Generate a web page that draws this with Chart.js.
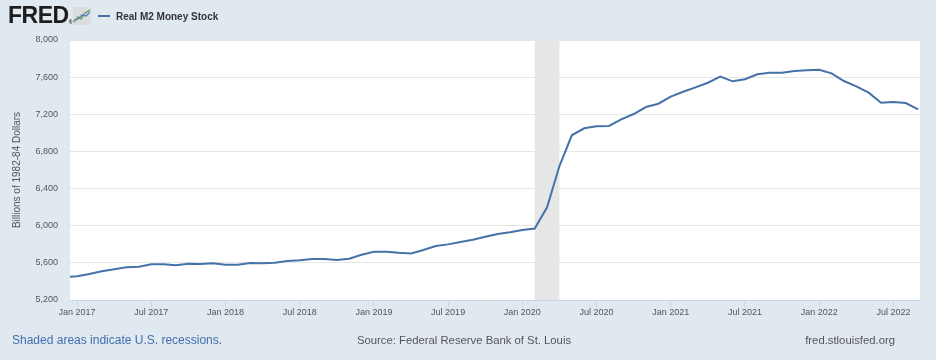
<!DOCTYPE html>
<html>
<head>
<meta charset="utf-8">
<script src="https://cdn.jsdelivr.net/npm/chart.js@4/dist/chart.umd.min.js"></script>
<style>
    body { margin: 0; background: #e1e9f0; font-family: "Liberation Sans", Arial, sans-serif; }
    #wrap { position: relative; width: 936px; height: 360px; overflow: hidden; }
    #grafico { position: absolute; left: 0; top: 0; }
    .logo { position: absolute; left: 8px; top: 4px; font-size: 23px; line-height: 23px; font-weight: bold; color: #1d1d1d; letter-spacing: -0.5px; }
    .logo small { font-size: 5px; letter-spacing: 0; vertical-align: -1px; }
    .icone { position: absolute; left: 73px; top: 7px; }
    .legenda { position: absolute; left: 98px; top: 9px; height: 14px; display: flex; align-items: center; font-size: 10px; font-weight: bold; color: #333; }
    .legenda span.traco { display: inline-block; width: 12px; height: 2px; background: #4572a7; margin-right: 6px; }
    .rodape { position: absolute; top: 333px; font-size: 11.3px; line-height: 14px; color: #555; }
</style>
</head>
<body>
<div id="wrap">
    <canvas id="grafico" width="936" height="360"></canvas>
    <div class="logo">FRED<small>&reg;</small></div>
    <svg class="icone" width="18" height="18" viewBox="0 0 18 18">
        <rect x="0" y="0" width="18" height="18" fill="#d9dde2"/>
        <polyline points="1,15 5,10 8,12 12,6 17,3" fill="none" stroke="#6fa04a" stroke-width="1.4"/>
        <polyline points="1,13 5,12 9,8 13,9 17,5" fill="none" stroke="#4f7fbf" stroke-width="1.2"/>
    </svg>
    <div class="legenda"><span class="traco"></span>Real M2 Money Stock</div>
    <div class="rodape" style="left:12px; font-size:12px; color:#3f6fae;">Shaded areas indicate U.S. recessions.</div>
    <div class="rodape" style="left:0; width:928px; text-align:center;">Source: Federal Reserve Bank of St. Louis</div>
    <div class="rodape" style="right:41px;">fred.stlouisfed.org</div>
</div>

<script>
// --- Data (monthly, billions of 1982-84 dollars) ---
const meses = [
    '2016-12',
    '2017-01', '2017-02', '2017-03', '2017-04', '2017-05', '2017-06', '2017-07', '2017-08', '2017-09', '2017-10', '2017-11', '2017-12',
    '2018-01', '2018-02', '2018-03', '2018-04', '2018-05', '2018-06', '2018-07', '2018-08', '2018-09', '2018-10', '2018-11', '2018-12',
    '2019-01', '2019-02', '2019-03', '2019-04', '2019-05', '2019-06', '2019-07', '2019-08', '2019-09', '2019-10', '2019-11', '2019-12',
    '2020-01', '2020-02', '2020-03', '2020-04', '2020-05', '2020-06', '2020-07', '2020-08', '2020-09', '2020-10', '2020-11', '2020-12',
    '2021-01', '2021-02', '2021-03', '2021-04', '2021-05', '2021-06', '2021-07', '2021-08', '2021-09', '2021-10', '2021-11', '2021-12',
    '2022-01', '2022-02', '2022-03', '2022-04', '2022-05', '2022-06', '2022-07', '2022-08', '2022-09'
];
const realM2 = [
    5445,
    5455, 5480, 5509, 5530, 5552, 5558, 5584, 5584, 5573, 5591, 5588, 5595,
    5580, 5580, 5598, 5595, 5602, 5620, 5627, 5641, 5641, 5630, 5645, 5688,
    5720, 5720, 5709, 5702, 5738, 5781, 5799, 5824, 5849, 5881, 5911, 5929,
    5954, 5970, 6198, 6643, 6974, 7049, 7071, 7074, 7146, 7203, 7278, 7314,
    7390, 7443, 7490, 7540, 7605, 7555, 7577, 7631, 7648, 7648, 7666, 7673,
    7680, 7641, 7558, 7501, 7433, 7325, 7332, 7321, 7254
];

// Recession (shaded band)
const recessaoInicio = ['2020-02'];
const recessaoFim = ['2020-04'];

// x-axis ticks and y-axis ticks
const ticksX = ['2017-01', '2017-07', '2018-01', '2018-07', '2019-01', '2019-07', '2020-01', '2020-07', '2021-01', '2021-07', '2022-01', '2022-07'];
const ticksY = [5200, 5600, 6000, 6400, 6800, 7200, 7600, 8000];
const nomesMeses = ['Jan', 'Feb', 'Mar', 'Apr', 'May', 'Jun', 'Jul', 'Aug', 'Sep', 'Oct', 'Nov', 'Dec'];

// 'AAAA-MM' -> months counted from Jan 2017
function mesParaIndice(texto) {
    const [ano, mes] = texto.split('-').map(Number);
    return (ano - 2017) * 12 + (mes - 1);
}

function indiceParaRotulo(indice) {
    const ano = 2017 + Math.floor(indice / 12);
    return `${nomesMeses[((indice % 12) + 12) % 12]} ${ano}`;
}

const pontos = meses.map((m, i) => ({ x: mesParaIndice(m), y: realM2[i] }));

const fonteEixo = { family: '"Liberation Sans", Arial, sans-serif', size: 9 };

// White plot background + recession band, drawn through the scales
const fundoPlugin = {
    id: 'fundo',
    beforeDatasetsDraw(chart) {
        const { ctx, chartArea, scales } = chart;
        ctx.save();
        ctx.fillStyle = '#e6e6e6';
        recessaoInicio.forEach((inicio, i) => {
            const x1 = scales.x.getPixelForValue(mesParaIndice(inicio));
            const x2 = scales.x.getPixelForValue(mesParaIndice(recessaoFim[i]));
            ctx.fillRect(x1, chartArea.top, x2 - x1, chartArea.bottom - chartArea.top);
        });
        ctx.restore();
    },
    beforeDraw(chart) {
        const { ctx, chartArea } = chart;
        ctx.save();
        ctx.fillStyle = '#ffffff';
        ctx.fillRect(chartArea.left, chartArea.top, chartArea.right - chartArea.left, chartArea.bottom - chartArea.top);
        ctx.restore();
    }
};

new Chart(document.getElementById('grafico'), {
    type: 'line',
    data: {
        datasets: [{
            label: 'Real M2 Money Stock',
            data: pontos,
            borderColor: '#4572a7',
            borderWidth: 2,
            pointRadius: 0,
            tension: 0,
            fill: false
        }]
    },
    plugins: [fundoPlugin],
    options: {
        responsive: false,
        animation: false,
        layout: { padding: { left: 0, right: 16, top: 40, bottom: 0 } },
        plugins: {
            legend: { display: false },
            tooltip: { enabled: false }
        },
        scales: {
            x: {
                type: 'linear',
                min: -0.57,
                max: 68.15,
                afterFit: (scale) => { scale.height = 60; },
                afterBuildTicks: (scale) => {
                    scale.ticks = ticksX.map(t => ({ value: mesParaIndice(t) }));
                },
                grid: { drawOnChartArea: false, color: '#ccd6eb', tickLength: 7 },
                border: { color: '#ccd6eb' },
                ticks: {
                    padding: 0,
                    maxRotation: 0,
                    autoSkip: false,
                    color: '#555',
                    font: fonteEixo,
                    callback: (valor) => indiceParaRotulo(valor)
                }
            },
            y: {
                min: 5200,
                max: 8000,
                afterFit: (scale) => { scale.width = 70; },
                afterBuildTicks: (scale) => {
                    scale.ticks = ticksY.map(v => ({ value: v }));
                },
                grid: { color: '#e6e6e6', drawTicks: false },
                border: { display: false },
                ticks: {
                    padding: 12,
                    color: '#555',
                    font: fonteEixo,
                    callback: (valor) => valor.toLocaleString('en-US')
                },
                title: {
                    display: true,
                    text: 'Billions of 1982-84 Dollars',
                    color: '#555',
                    font: { family: '"Liberation Sans", Arial, sans-serif', size: 10 },
                    padding: { top: 11, bottom: 0 }
                }
            }
        }
    }
});
</script>
</body>
</html>
